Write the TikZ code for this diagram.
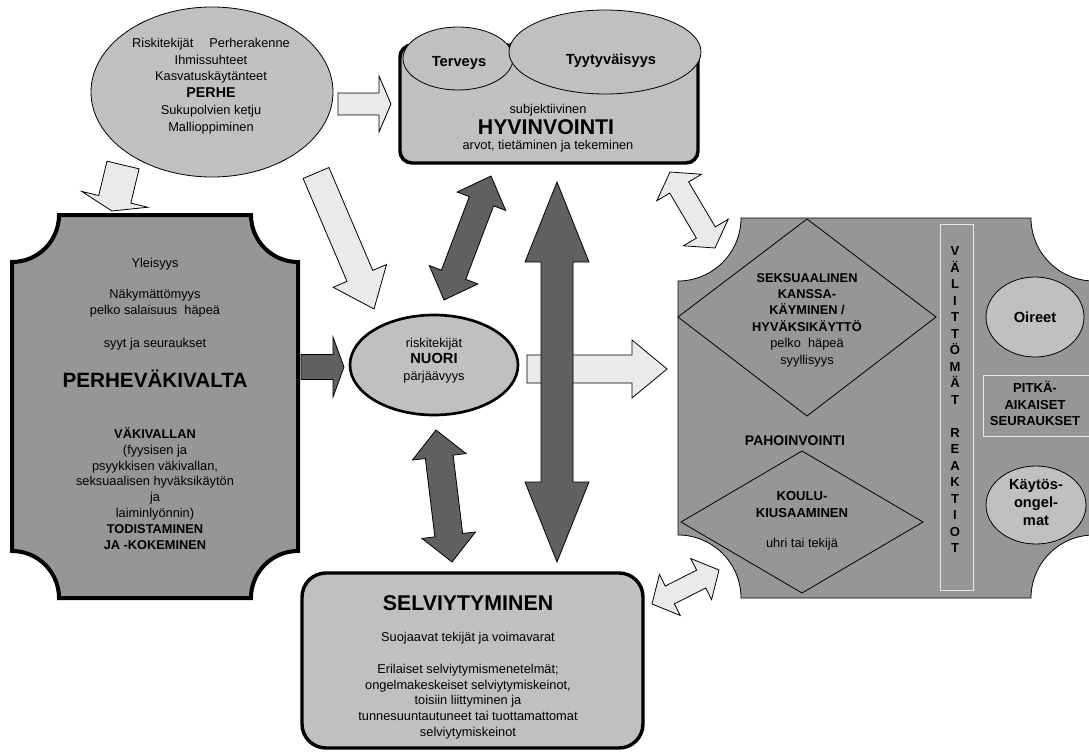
\documentclass[tikz,border=0pt]{standalone}
\usepackage{fontspec}
\setmainfont{Liberation Sans}
\usetikzlibrary{calc,shapes.geometric}

\definecolor{boxgray}{HTML}{C0C0C0}
\definecolor{plategray}{HTML}{969696}
\definecolor{arrowlight}{HTML}{EAEAEA}
\definecolor{arrowdark}{HTML}{606060}
\definecolor{framegray}{HTML}{E6E6E6}

% block arrow: style, from, to, half shaft, half head, head length (px)
\newcommand{\blockarrow}[6]{%
  \filldraw[#1] ($(#2)!{#4*0.75pt}!90:(#3)$)
    -- ($(#3)!{#6*0.75pt}!(#2)!{#4*0.75pt}!90:(#3)$)
    -- ($(#3)!{#6*0.75pt}!(#2)!{#5*0.75pt}!90:(#3)$)
    -- (#3)
    -- ($(#3)!{#6*0.75pt}!(#2)!{#5*0.75pt}!-90:(#3)$)
    -- ($(#3)!{#6*0.75pt}!(#2)!{#4*0.75pt}!-90:(#3)$)
    -- ($(#2)!{#4*0.75pt}!-90:(#3)$) -- cycle;}
% same with a head at both ends
\newcommand{\doublearrow}[6]{%
  \filldraw[#1] (#2)
    -- ($(#2)!{#6*0.75pt}!(#3)!{#5*0.75pt}!90:(#3)$)
    -- ($(#2)!{#6*0.75pt}!(#3)!{#4*0.75pt}!90:(#3)$)
    -- ($(#3)!{#6*0.75pt}!(#2)!{#4*0.75pt}!90:(#3)$)
    -- ($(#3)!{#6*0.75pt}!(#2)!{#5*0.75pt}!90:(#3)$)
    -- (#3)
    -- ($(#3)!{#6*0.75pt}!(#2)!{#5*0.75pt}!-90:(#3)$)
    -- ($(#3)!{#6*0.75pt}!(#2)!{#4*0.75pt}!-90:(#3)$)
    -- ($(#2)!{#6*0.75pt}!(#3)!{#4*0.75pt}!-90:(#3)$)
    -- ($(#2)!{#6*0.75pt}!(#3)!{#5*0.75pt}!-90:(#3)$) -- cycle;}

\tikzset{
  txt/.style={font=\fontsize{9.6}{12}\selectfont, align=center, inner sep=0pt},
  boldtxt/.style={txt, font=\fontsize{9.8}{12.4}\selectfont\bfseries},
  btitle/.style={txt, font=\fontsize{11}{13.5}\selectfont\bfseries},
  heading/.style={inner sep=0pt, font=\fontsize{16}{19}\selectfont\bfseries},
  oval/.style={ellipse, draw, fill=boxgray, line width=0.6pt, inner sep=0pt},
  lightarrow/.style={draw, fill=arrowlight, line width=0.6pt},
  darkarrow/.style={draw, fill=arrowdark, line width=0.6pt},
}

\begin{document}
\begin{tikzpicture}[x=0.75pt, y=-0.75pt]
\useasboundingbox (0,0) rectangle (1089,753);

% left plate
\filldraw[fill=plategray, line width=3pt] (59,215) -- (251,215) arc[start angle=180,end angle=90,radius=47]
  -- (298,551) arc[start angle=270,end angle=180,radius=47]
  -- (59,598) arc[start angle=0,end angle=-90,radius=47]
  -- (12,262) arc[start angle=90,end angle=0,radius=47] -- cycle;
\node[txt, anchor=base] (yleis) at (155,267.6) {Yleisyys};
\node[txt] (nakym) at (155,303.5) {Näkymättömyys\\pelko salaisuus~ häpeä};
\node[txt, anchor=base] (syyt) at (155,347.6) {syyt ja seuraukset};
\node[heading, font=\fontsize{15.5}{18}\selectfont\bfseries, anchor=base] (perhevak) at (155,387.4) {PERHEVÄKIVALTA};
\node[txt, font=\fontsize{9.6}{11.9}\selectfont] (todist) at (155,488.5)
  {\textbf{VÄKIVALLAN}\\(fyysisen ja\\psyykkisen väkivallan,\\seksuaalisen hyväksikäytön\\ja\\laiminlyönnin)\\\textbf{TODISTAMINEN}\\\textbf{JA -KOKEMINEN}};

% right plate
\filldraw[fill=plategray, line width=0.6pt] (741,218) -- (1031,218) arc[start angle=180,end angle=90,radius=63]
  -- (1094,535) arc[start angle=270,end angle=180,radius=63]
  -- (741,598) arc[start angle=0,end angle=-90,radius=63]
  -- (678,281) arc[start angle=90,end angle=0,radius=63] -- cycle;
\draw[line width=0.6pt] (807,219) -- (936,317) -- (807,416) -- (678,317) -- cycle;
\draw[line width=0.6pt] (802,451) -- (923,522) -- (802,593) -- (681,522) -- cycle;
\node[txt, font=\fontsize{9.6}{12.3}\selectfont] (seksu) at (807,320)
  {\textbf{SEKSUAALINEN}\\\textbf{KANSSA-}\\\textbf{KÄYMINEN /}\\\textbf{HYVÄKSIKÄYTTÖ}\\pelko~ häpeä\\syyllisyys};
\node[boldtxt, font=\fontsize{10.5}{12.6}\selectfont\bfseries, anchor=base] (pahoin) at (795,445) {PAHOINVOINTI};
\node[boldtxt, font=\fontsize{9.8}{12.6}\selectfont\bfseries] (koulu) at (802,504.5) {KOULU-\\KIUSAAMINEN};
\node[txt, anchor=base] (uhri) at (802,547.6) {uhri tai tekijä};

\draw[framegray, line width=0.6pt] (940,224) rectangle (973,590);
\foreach \ch [count=\i from 0] in {V,Ä,L,I,T,T,Ö,M,Ä,T}
  \node[boldtxt, anchor=base] (va\i) at (955,{255.7+16.5*\i}) {\ch};
\foreach \ch [count=\i from 0] in {R,E,A,K,T,I,O,T}
  \node[boldtxt, anchor=base] (re\i) at (955,{437.2+16.5*\i}) {\ch};

\node[oval, minimum width=73.5pt, minimum height=60pt] (oireet) at (1035,317) {};
\node[btitle, anchor=base] (oireettxt) at (1035,322.3) {Oireet};
\draw[framegray, line width=0.6pt] (983,375) rectangle (1094,436);
\node[boldtxt] (pitka) at (1035,403.5) {PITKÄ-\\AIKAISET\\SEURAUKSET};
\node[oval, minimum width=75pt, minimum height=58.5pt] (kaytos) at (1036,505) {};
\node[btitle] (kaytostxt) at (1036,502) {Käytös-\\ongel-\\mat};

% family
\node[oval, minimum width=181.5pt, minimum height=127.5pt] (perhe) at (212,92) {};
\node[txt, font=\fontsize{9.6}{12.6}\selectfont] (perhetxt) at (211,86)
  {Riskitekijät\hspace{12pt}Perherakenne\\Ihmissuhteet\\Kasvatuskäytänteet\\{\fontsize{10.7}{12.6}\selectfont\bfseries PERHE}\\Sukupolvien ketju\\Mallioppiminen};

% well-being
\filldraw[fill=boxgray, line width=2.6pt, rounded corners=9pt] (400,45) rectangle (698,163);
\node[oval, minimum width=82.5pt, minimum height=47.25pt] (terveys) at (458,58.5) {};
\node[oval, minimum width=144pt, minimum height=63pt] (tyyt) at (605,52) {};
\node[btitle, anchor=base] (tervtxt) at (459,66.3) {Terveys};
\node[btitle, anchor=base] (tyyttxt) at (611,64.3) {Tyytyväisyys};
\node[txt, anchor=base] (subj) at (548,113.6) {subjektiivinen};
\node[heading, anchor=base] (hyvin) at (546,134.7) {HYVINVOINTI};
\node[txt, anchor=base] (arvot) at (548,149.6) {arvot, tietäminen ja tekeminen};

% young person
\node[oval, line width=2pt, minimum width=126pt, minimum height=75pt] (nuori) at (434,365) {};
\node[txt, font=\fontsize{9.6}{12.4}\selectfont] (nuoritxt) at (434,360.5)
  {riskitekijät\\{\fontsize{11}{12.4}\selectfont\bfseries NUORI}\\pärjäävyys};

% coping
\filldraw[fill=boxgray, line width=2.6pt, rounded corners=18pt] (302,573) rectangle (643,748);
\node[heading, anchor=base] (selv) at (468,610.7) {SELVIYTYMINEN};
\node[txt, anchor=base] (suoj) at (468,641.6) {Suojaavat tekijät ja voimavarat};
\node[txt, font=\fontsize{9.6}{11.8}\selectfont] (erilaiset) at (468,701.5)
  {Erilaiset selviytymismenetelmät;\\ongelmakeskeiset selviytymiskeinot,\\toisiin liittyminen ja\\tunnesuuntautuneet tai tuottamattomat\\selviytymiskeinot};

% arrow ends
\coordinate (a1s) at (338,104);  \coordinate (a1e) at (391,104);
\coordinate (a2s) at (123,165);  \coordinate (a2e) at (112,211);
\coordinate (a3s) at (316,173);  \coordinate (a3e) at (374,309);
\coordinate (a4s) at (444,300);  \coordinate (a4e) at (491,176);
\coordinate (a5s) at (557,562);  \coordinate (a5e) at (557,182);
\coordinate (a6s) at (436,430);  \coordinate (a6e) at (452,562);
\coordinate (a7s) at (301,367);  \coordinate (a7e) at (344,367);
\coordinate (a8s) at (527,369);  \coordinate (a8e) at (667,369);
\coordinate (a9s) at (670,172);  \coordinate (a9e) at (715,248);
\coordinate (a10s) at (652,604); \coordinate (a10e) at (719,570);

\blockarrow{lightarrow}{a1s}{a1e}{11}{28}{12}
\blockarrow{lightarrow}{a2s}{a2e}{16.5}{34}{12}
\blockarrow{lightarrow}{a3s}{a3e}{14}{29}{36}
\doublearrow{darkarrow}{a4s}{a4e}{13}{26}{27}
\blockarrow{lightarrow}{a8s}{a8e}{14}{29}{35}
\doublearrow{darkarrow}{a5s}{a5e}{16}{32}{80}
\doublearrow{darkarrow}{a6s}{a6e}{14}{27}{27}
\blockarrow{darkarrow}{a7s}{a7e}{12.5}{30}{11}
\doublearrow{lightarrow}{a9s}{a9e}{11}{26}{18}
\doublearrow{lightarrow}{a10s}{a10e}{10}{23}{20}
\end{tikzpicture}
\end{document}
